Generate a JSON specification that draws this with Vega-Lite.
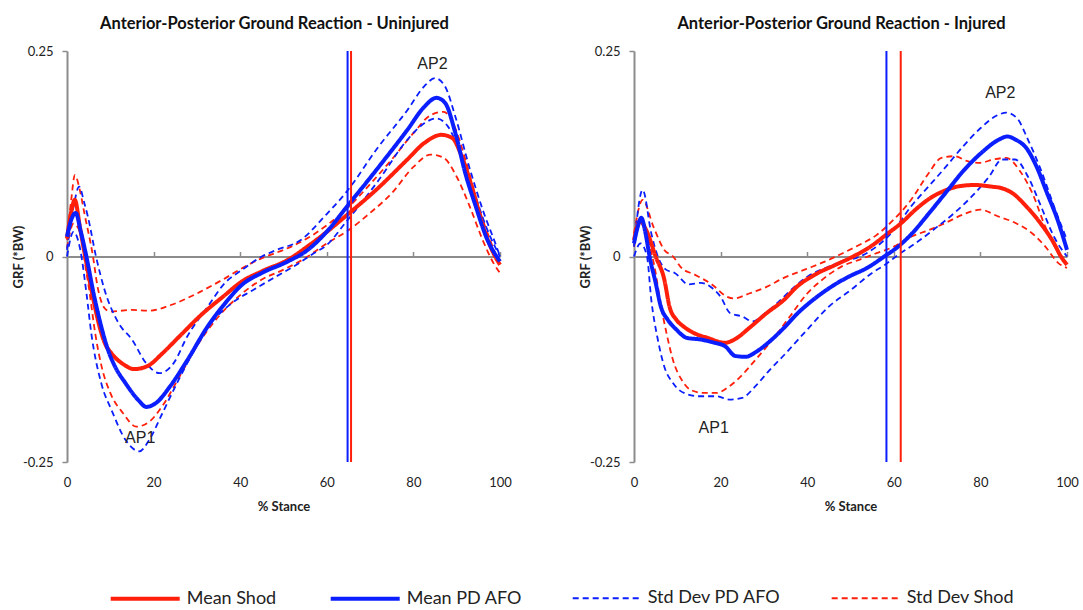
{
"$schema": "https://vega.github.io/schema/vega-lite/v6.json",
"padding": {"left": 12, "top": 15, "right": 0, "bottom": 0},
"background": "white",
"config": {
  "view": {"stroke": null},
  "font": "Lato",
  "axis": {"grid": false, "domainColor": "#8c8c8c", "tickColor": "#8c8c8c", "labelColor": "#222222", "labelFont": "Lato", "labelFontSize": 13, "titleFont": "Lato", "titleFontSize": 13, "titleFontWeight": "bold", "titleColor": "#222222"},
  "title": {"font": "Lato", "fontSize": 16.5, "fontWeight": "bold", "color": "#111111"},
  "concat": {"spacing": 67},
  "legend": {"orient": "none", "legendX": 41.7, "legendY": 511, "direction": "horizontal", "columnPadding": 46, "symbolType": "stroke", "symbolSize": 4761, "labelFont": "Lato", "labelFontSize": 18, "labelColor": "#222222", "labelOffset": 5, "padding": 0}
},
"datasets": {
"curves": [
{"p":"U","s":"Std Dev Shod","b":"u","x":0,"y":0.02},{"p":"U","s":"Std Dev Shod","b":"u","x":1,"y":0.07},{"p":"U","s":"Std Dev Shod","b":"u","x":1.8,"y":0.099},{"p":"U","s":"Std Dev Shod","b":"u","x":3,"y":0.08},{"p":"U","s":"Std Dev Shod","b":"u","x":4,"y":0.053},{"p":"U","s":"Std Dev Shod","b":"u","x":6,"y":0.0},{"p":"U","s":"Std Dev Shod","b":"u","x":7,"y":-0.035},{"p":"U","s":"Std Dev Shod","b":"u","x":8.7,"y":-0.063},{"p":"U","s":"Std Dev Shod","b":"u","x":10,"y":-0.067},{"p":"U","s":"Std Dev Shod","b":"u","x":15,"y":-0.065},{"p":"U","s":"Std Dev Shod","b":"u","x":19,"y":-0.066},{"p":"U","s":"Std Dev Shod","b":"u","x":24,"y":-0.059},{"p":"U","s":"Std Dev Shod","b":"u","x":30,"y":-0.045},{"p":"U","s":"Std Dev Shod","b":"u","x":36,"y":-0.028},{"p":"U","s":"Std Dev Shod","b":"u","x":40.5,"y":-0.014},{"p":"U","s":"Std Dev Shod","b":"u","x":45,"y":-0.002},{"p":"U","s":"Std Dev Shod","b":"u","x":50,"y":0.008},{"p":"U","s":"Std Dev Shod","b":"u","x":54.8,"y":0.02},{"p":"U","s":"Std Dev Shod","b":"u","x":60,"y":0.038},{"p":"U","s":"Std Dev Shod","b":"u","x":65,"y":0.06},{"p":"U","s":"Std Dev Shod","b":"u","x":70,"y":0.088},{"p":"U","s":"Std Dev Shod","b":"u","x":75,"y":0.118},{"p":"U","s":"Std Dev Shod","b":"u","x":80,"y":0.15},{"p":"U","s":"Std Dev Shod","b":"u","x":84,"y":0.172},{"p":"U","s":"Std Dev Shod","b":"u","x":87,"y":0.176},{"p":"U","s":"Std Dev Shod","b":"u","x":89.5,"y":0.158},{"p":"U","s":"Std Dev Shod","b":"u","x":92,"y":0.118},{"p":"U","s":"Std Dev Shod","b":"u","x":95,"y":0.061},{"p":"U","s":"Std Dev Shod","b":"u","x":98,"y":0.016},{"p":"U","s":"Std Dev Shod","b":"u","x":100,"y":-0.012},
{"p":"U","s":"Std Dev Shod","b":"l","x":0,"y":0.01},{"p":"U","s":"Std Dev Shod","b":"l","x":1.5,"y":0.04},{"p":"U","s":"Std Dev Shod","b":"l","x":3,"y":0.03},{"p":"U","s":"Std Dev Shod","b":"l","x":4.5,"y":-0.02},{"p":"U","s":"Std Dev Shod","b":"l","x":5,"y":-0.036},{"p":"U","s":"Std Dev Shod","b":"l","x":6.5,"y":-0.093},{"p":"U","s":"Std Dev Shod","b":"l","x":8,"y":-0.134},{"p":"U","s":"Std Dev Shod","b":"l","x":10,"y":-0.166},{"p":"U","s":"Std Dev Shod","b":"l","x":13,"y":-0.191},{"p":"U","s":"Std Dev Shod","b":"l","x":16,"y":-0.207},{"p":"U","s":"Std Dev Shod","b":"l","x":19,"y":-0.201},{"p":"U","s":"Std Dev Shod","b":"l","x":22,"y":-0.182},{"p":"U","s":"Std Dev Shod","b":"l","x":26,"y":-0.146},{"p":"U","s":"Std Dev Shod","b":"l","x":30,"y":-0.109},{"p":"U","s":"Std Dev Shod","b":"l","x":35,"y":-0.073},{"p":"U","s":"Std Dev Shod","b":"l","x":40,"y":-0.047},{"p":"U","s":"Std Dev Shod","b":"l","x":45,"y":-0.028},{"p":"U","s":"Std Dev Shod","b":"l","x":50,"y":-0.016},{"p":"U","s":"Std Dev Shod","b":"l","x":55,"y":-0.002},{"p":"U","s":"Std Dev Shod","b":"l","x":60,"y":0.016},{"p":"U","s":"Std Dev Shod","b":"l","x":65,"y":0.032},{"p":"U","s":"Std Dev Shod","b":"l","x":70,"y":0.053},{"p":"U","s":"Std Dev Shod","b":"l","x":75,"y":0.077},{"p":"U","s":"Std Dev Shod","b":"l","x":80,"y":0.109},{"p":"U","s":"Std Dev Shod","b":"l","x":84,"y":0.124},{"p":"U","s":"Std Dev Shod","b":"l","x":87,"y":0.12},{"p":"U","s":"Std Dev Shod","b":"l","x":90,"y":0.097},{"p":"U","s":"Std Dev Shod","b":"l","x":93,"y":0.061},{"p":"U","s":"Std Dev Shod","b":"l","x":96,"y":0.02},{"p":"U","s":"Std Dev Shod","b":"l","x":98.5,"y":-0.008},{"p":"U","s":"Std Dev Shod","b":"l","x":100,"y":-0.02},
{"p":"U","s":"Std Dev PD AFO","b":"u","x":0,"y":0.008},{"p":"U","s":"Std Dev PD AFO","b":"u","x":1.5,"y":0.06},{"p":"U","s":"Std Dev PD AFO","b":"u","x":2.8,"y":0.085},{"p":"U","s":"Std Dev PD AFO","b":"u","x":4,"y":0.065},{"p":"U","s":"Std Dev PD AFO","b":"u","x":4.8,"y":0.049},{"p":"U","s":"Std Dev PD AFO","b":"u","x":6.7,"y":0.0},{"p":"U","s":"Std Dev PD AFO","b":"u","x":8.7,"y":-0.041},{"p":"U","s":"Std Dev PD AFO","b":"u","x":11.9,"y":-0.081},{"p":"U","s":"Std Dev PD AFO","b":"u","x":15,"y":-0.101},{"p":"U","s":"Std Dev PD AFO","b":"u","x":18.3,"y":-0.13},{"p":"U","s":"Std Dev PD AFO","b":"u","x":21.4,"y":-0.142},{"p":"U","s":"Std Dev PD AFO","b":"u","x":24.6,"y":-0.13},{"p":"U","s":"Std Dev PD AFO","b":"u","x":27.8,"y":-0.097},{"p":"U","s":"Std Dev PD AFO","b":"u","x":32.5,"y":-0.061},{"p":"U","s":"Std Dev PD AFO","b":"u","x":36.5,"y":-0.032},{"p":"U","s":"Std Dev PD AFO","b":"u","x":40.5,"y":-0.016},{"p":"U","s":"Std Dev PD AFO","b":"u","x":45,"y":0.0},{"p":"U","s":"Std Dev PD AFO","b":"u","x":48.4,"y":0.008},{"p":"U","s":"Std Dev PD AFO","b":"u","x":54,"y":0.02},{"p":"U","s":"Std Dev PD AFO","b":"u","x":59.5,"y":0.049},{"p":"U","s":"Std Dev PD AFO","b":"u","x":64.3,"y":0.077},{"p":"U","s":"Std Dev PD AFO","b":"u","x":72,"y":0.134},{"p":"U","s":"Std Dev PD AFO","b":"u","x":78.6,"y":0.178},{"p":"U","s":"Std Dev PD AFO","b":"u","x":82.5,"y":0.207},{"p":"U","s":"Std Dev PD AFO","b":"u","x":85,"y":0.217},{"p":"U","s":"Std Dev PD AFO","b":"u","x":87.3,"y":0.207},{"p":"U","s":"Std Dev PD AFO","b":"u","x":89.7,"y":0.17},{"p":"U","s":"Std Dev PD AFO","b":"u","x":92.9,"y":0.109},{"p":"U","s":"Std Dev PD AFO","b":"u","x":96,"y":0.057},{"p":"U","s":"Std Dev PD AFO","b":"u","x":99.2,"y":0.012},{"p":"U","s":"Std Dev PD AFO","b":"u","x":100,"y":0.0},
{"p":"U","s":"Std Dev PD AFO","b":"l","x":0,"y":0.0},{"p":"U","s":"Std Dev PD AFO","b":"l","x":1.5,"y":0.03},{"p":"U","s":"Std Dev PD AFO","b":"l","x":3,"y":0.01},{"p":"U","s":"Std Dev PD AFO","b":"l","x":4.5,"y":-0.045},{"p":"U","s":"Std Dev PD AFO","b":"l","x":5.6,"y":-0.093},{"p":"U","s":"Std Dev PD AFO","b":"l","x":7.9,"y":-0.154},{"p":"U","s":"Std Dev PD AFO","b":"l","x":10.3,"y":-0.187},{"p":"U","s":"Std Dev PD AFO","b":"l","x":13.5,"y":-0.223},{"p":"U","s":"Std Dev PD AFO","b":"l","x":16.7,"y":-0.237},{"p":"U","s":"Std Dev PD AFO","b":"l","x":19,"y":-0.223},{"p":"U","s":"Std Dev PD AFO","b":"l","x":22,"y":-0.191},{"p":"U","s":"Std Dev PD AFO","b":"l","x":25.4,"y":-0.154},{"p":"U","s":"Std Dev PD AFO","b":"l","x":29.4,"y":-0.114},{"p":"U","s":"Std Dev PD AFO","b":"l","x":33.3,"y":-0.081},{"p":"U","s":"Std Dev PD AFO","b":"l","x":38,"y":-0.057},{"p":"U","s":"Std Dev PD AFO","b":"l","x":42.9,"y":-0.041},{"p":"U","s":"Std Dev PD AFO","b":"l","x":48.4,"y":-0.024},{"p":"U","s":"Std Dev PD AFO","b":"l","x":53,"y":-0.01},{"p":"U","s":"Std Dev PD AFO","b":"l","x":57,"y":0.004},{"p":"U","s":"Std Dev PD AFO","b":"l","x":60,"y":0.014},{"p":"U","s":"Std Dev PD AFO","b":"l","x":64.3,"y":0.041},{"p":"U","s":"Std Dev PD AFO","b":"l","x":72,"y":0.093},{"p":"U","s":"Std Dev PD AFO","b":"l","x":78.6,"y":0.142},{"p":"U","s":"Std Dev PD AFO","b":"l","x":82.5,"y":0.162},{"p":"U","s":"Std Dev PD AFO","b":"l","x":85.3,"y":0.168},{"p":"U","s":"Std Dev PD AFO","b":"l","x":88,"y":0.158},{"p":"U","s":"Std Dev PD AFO","b":"l","x":90.5,"y":0.13},{"p":"U","s":"Std Dev PD AFO","b":"l","x":93.6,"y":0.085},{"p":"U","s":"Std Dev PD AFO","b":"l","x":96.8,"y":0.036},{"p":"U","s":"Std Dev PD AFO","b":"l","x":100,"y":0.0},
{"p":"U","s":"Mean Shod","b":"m","x":0,"y":0.022},{"p":"U","s":"Mean Shod","b":"m","x":1,"y":0.055},{"p":"U","s":"Mean Shod","b":"m","x":1.8,"y":0.069},{"p":"U","s":"Mean Shod","b":"m","x":3,"y":0.035},{"p":"U","s":"Mean Shod","b":"m","x":4.2,"y":0.0},{"p":"U","s":"Mean Shod","b":"m","x":6,"y":-0.05},{"p":"U","s":"Mean Shod","b":"m","x":7.5,"y":-0.085},{"p":"U","s":"Mean Shod","b":"m","x":8.7,"y":-0.105},{"p":"U","s":"Mean Shod","b":"m","x":10.3,"y":-0.118},{"p":"U","s":"Mean Shod","b":"m","x":13,"y":-0.131},{"p":"U","s":"Mean Shod","b":"m","x":15.5,"y":-0.137},{"p":"U","s":"Mean Shod","b":"m","x":18.7,"y":-0.133},{"p":"U","s":"Mean Shod","b":"m","x":22,"y":-0.118},{"p":"U","s":"Mean Shod","b":"m","x":26,"y":-0.097},{"p":"U","s":"Mean Shod","b":"m","x":31,"y":-0.071},{"p":"U","s":"Mean Shod","b":"m","x":36,"y":-0.049},{"p":"U","s":"Mean Shod","b":"m","x":40.5,"y":-0.03},{"p":"U","s":"Mean Shod","b":"m","x":45,"y":-0.018},{"p":"U","s":"Mean Shod","b":"m","x":51,"y":-0.004},{"p":"U","s":"Mean Shod","b":"m","x":56,"y":0.014},{"p":"U","s":"Mean Shod","b":"m","x":60,"y":0.03},{"p":"U","s":"Mean Shod","b":"m","x":65,"y":0.052},{"p":"U","s":"Mean Shod","b":"m","x":72,"y":0.084},{"p":"U","s":"Mean Shod","b":"m","x":78.6,"y":0.118},{"p":"U","s":"Mean Shod","b":"m","x":82.5,"y":0.138},{"p":"U","s":"Mean Shod","b":"m","x":86.5,"y":0.148},{"p":"U","s":"Mean Shod","b":"m","x":89,"y":0.144},{"p":"U","s":"Mean Shod","b":"m","x":91,"y":0.124},{"p":"U","s":"Mean Shod","b":"m","x":93.6,"y":0.083},{"p":"U","s":"Mean Shod","b":"m","x":96,"y":0.038},{"p":"U","s":"Mean Shod","b":"m","x":98.4,"y":0.005},{"p":"U","s":"Mean Shod","b":"m","x":100,"y":-0.01},
{"p":"U","s":"Mean PD AFO","b":"m","x":0,"y":0.024},{"p":"U","s":"Mean PD AFO","b":"m","x":1,"y":0.045},{"p":"U","s":"Mean PD AFO","b":"m","x":2,"y":0.053},{"p":"U","s":"Mean PD AFO","b":"m","x":3.2,"y":0.03},{"p":"U","s":"Mean PD AFO","b":"m","x":4.4,"y":0.002},{"p":"U","s":"Mean PD AFO","b":"m","x":6.3,"y":-0.049},{"p":"U","s":"Mean PD AFO","b":"m","x":7.9,"y":-0.085},{"p":"U","s":"Mean PD AFO","b":"m","x":9.5,"y":-0.114},{"p":"U","s":"Mean PD AFO","b":"m","x":11.1,"y":-0.134},{"p":"U","s":"Mean PD AFO","b":"m","x":13.5,"y":-0.154},{"p":"U","s":"Mean PD AFO","b":"m","x":16.7,"y":-0.176},{"p":"U","s":"Mean PD AFO","b":"m","x":18.3,"y":-0.183},{"p":"U","s":"Mean PD AFO","b":"m","x":20.6,"y":-0.178},{"p":"U","s":"Mean PD AFO","b":"m","x":23.8,"y":-0.158},{"p":"U","s":"Mean PD AFO","b":"m","x":27.8,"y":-0.126},{"p":"U","s":"Mean PD AFO","b":"m","x":32.5,"y":-0.085},{"p":"U","s":"Mean PD AFO","b":"m","x":36.5,"y":-0.057},{"p":"U","s":"Mean PD AFO","b":"m","x":40.5,"y":-0.034},{"p":"U","s":"Mean PD AFO","b":"m","x":45,"y":-0.02},{"p":"U","s":"Mean PD AFO","b":"m","x":51,"y":-0.006},{"p":"U","s":"Mean PD AFO","b":"m","x":55.6,"y":0.008},{"p":"U","s":"Mean PD AFO","b":"m","x":60.3,"y":0.032},{"p":"U","s":"Mean PD AFO","b":"m","x":64.7,"y":0.061},{"p":"U","s":"Mean PD AFO","b":"m","x":72,"y":0.109},{"p":"U","s":"Mean PD AFO","b":"m","x":78.6,"y":0.154},{"p":"U","s":"Mean PD AFO","b":"m","x":82.5,"y":0.182},{"p":"U","s":"Mean PD AFO","b":"m","x":85.3,"y":0.193},{"p":"U","s":"Mean PD AFO","b":"m","x":87.3,"y":0.187},{"p":"U","s":"Mean PD AFO","b":"m","x":89.7,"y":0.15},{"p":"U","s":"Mean PD AFO","b":"m","x":92,"y":0.101},{"p":"U","s":"Mean PD AFO","b":"m","x":94.4,"y":0.061},{"p":"U","s":"Mean PD AFO","b":"m","x":96.8,"y":0.024},{"p":"U","s":"Mean PD AFO","b":"m","x":100,"y":-0.006},
{"p":"I","s":"Std Dev Shod","b":"u","x":0,"y":0.028},{"p":"I","s":"Std Dev Shod","b":"u","x":2,"y":0.069},{"p":"I","s":"Std Dev Shod","b":"u","x":4.5,"y":0.036},{"p":"I","s":"Std Dev Shod","b":"u","x":7,"y":0.008},{"p":"I","s":"Std Dev Shod","b":"u","x":9,"y":0.0},{"p":"I","s":"Std Dev Shod","b":"u","x":11,"y":-0.014},{"p":"I","s":"Std Dev Shod","b":"u","x":14,"y":-0.022},{"p":"I","s":"Std Dev Shod","b":"u","x":18,"y":-0.034},{"p":"I","s":"Std Dev Shod","b":"u","x":21.5,"y":-0.049},{"p":"I","s":"Std Dev Shod","b":"u","x":23,"y":-0.051},{"p":"I","s":"Std Dev Shod","b":"u","x":26.6,"y":-0.045},{"p":"I","s":"Std Dev Shod","b":"u","x":30.6,"y":-0.037},{"p":"I","s":"Std Dev Shod","b":"u","x":34.6,"y":-0.026},{"p":"I","s":"Std Dev Shod","b":"u","x":39.4,"y":-0.016},{"p":"I","s":"Std Dev Shod","b":"u","x":44.2,"y":-0.006},{"p":"I","s":"Std Dev Shod","b":"u","x":48.2,"y":0.004},{"p":"I","s":"Std Dev Shod","b":"u","x":52,"y":0.014},{"p":"I","s":"Std Dev Shod","b":"u","x":56,"y":0.026},{"p":"I","s":"Std Dev Shod","b":"u","x":60,"y":0.045},{"p":"I","s":"Std Dev Shod","b":"u","x":64,"y":0.069},{"p":"I","s":"Std Dev Shod","b":"u","x":68,"y":0.101},{"p":"I","s":"Std Dev Shod","b":"u","x":71,"y":0.12},{"p":"I","s":"Std Dev Shod","b":"u","x":74,"y":0.122},{"p":"I","s":"Std Dev Shod","b":"u","x":77,"y":0.116},{"p":"I","s":"Std Dev Shod","b":"u","x":80,"y":0.114},{"p":"I","s":"Std Dev Shod","b":"u","x":83,"y":0.118},{"p":"I","s":"Std Dev Shod","b":"u","x":86,"y":0.12},{"p":"I","s":"Std Dev Shod","b":"u","x":89,"y":0.105},{"p":"I","s":"Std Dev Shod","b":"u","x":92,"y":0.077},{"p":"I","s":"Std Dev Shod","b":"u","x":95,"y":0.036},{"p":"I","s":"Std Dev Shod","b":"u","x":98,"y":0.004},{"p":"I","s":"Std Dev Shod","b":"u","x":100,"y":-0.012},
{"p":"I","s":"Std Dev Shod","b":"l","x":0,"y":0.012},{"p":"I","s":"Std Dev Shod","b":"l","x":1.5,"y":0.045},{"p":"I","s":"Std Dev Shod","b":"l","x":3.5,"y":0.016},{"p":"I","s":"Std Dev Shod","b":"l","x":5,"y":-0.02},{"p":"I","s":"Std Dev Shod","b":"l","x":6,"y":-0.053},{"p":"I","s":"Std Dev Shod","b":"l","x":7.5,"y":-0.093},{"p":"I","s":"Std Dev Shod","b":"l","x":9,"y":-0.126},{"p":"I","s":"Std Dev Shod","b":"l","x":11,"y":-0.15},{"p":"I","s":"Std Dev Shod","b":"l","x":13,"y":-0.162},{"p":"I","s":"Std Dev Shod","b":"l","x":16,"y":-0.166},{"p":"I","s":"Std Dev Shod","b":"l","x":19,"y":-0.166},{"p":"I","s":"Std Dev Shod","b":"l","x":22,"y":-0.158},{"p":"I","s":"Std Dev Shod","b":"l","x":25,"y":-0.144},{"p":"I","s":"Std Dev Shod","b":"l","x":28,"y":-0.126},{"p":"I","s":"Std Dev Shod","b":"l","x":32,"y":-0.101},{"p":"I","s":"Std Dev Shod","b":"l","x":36,"y":-0.073},{"p":"I","s":"Std Dev Shod","b":"l","x":40,"y":-0.045},{"p":"I","s":"Std Dev Shod","b":"l","x":44,"y":-0.026},{"p":"I","s":"Std Dev Shod","b":"l","x":48,"y":-0.012},{"p":"I","s":"Std Dev Shod","b":"l","x":52,"y":-0.004},{"p":"I","s":"Std Dev Shod","b":"l","x":56,"y":0.004},{"p":"I","s":"Std Dev Shod","b":"l","x":60,"y":0.012},{"p":"I","s":"Std Dev Shod","b":"l","x":64,"y":0.024},{"p":"I","s":"Std Dev Shod","b":"l","x":68,"y":0.032},{"p":"I","s":"Std Dev Shod","b":"l","x":72,"y":0.041},{"p":"I","s":"Std Dev Shod","b":"l","x":76,"y":0.051},{"p":"I","s":"Std Dev Shod","b":"l","x":80,"y":0.057},{"p":"I","s":"Std Dev Shod","b":"l","x":84,"y":0.049},{"p":"I","s":"Std Dev Shod","b":"l","x":88,"y":0.041},{"p":"I","s":"Std Dev Shod","b":"l","x":92,"y":0.028},{"p":"I","s":"Std Dev Shod","b":"l","x":95,"y":0.012},{"p":"I","s":"Std Dev Shod","b":"l","x":98,"y":-0.008},{"p":"I","s":"Std Dev Shod","b":"l","x":100,"y":-0.014},
{"p":"I","s":"Std Dev PD AFO","b":"u","x":0,"y":0.012},{"p":"I","s":"Std Dev PD AFO","b":"u","x":2,"y":0.081},{"p":"I","s":"Std Dev PD AFO","b":"u","x":4,"y":0.028},{"p":"I","s":"Std Dev PD AFO","b":"u","x":5.5,"y":0.0},{"p":"I","s":"Std Dev PD AFO","b":"u","x":7.4,"y":-0.016},{"p":"I","s":"Std Dev PD AFO","b":"u","x":9.4,"y":-0.02},{"p":"I","s":"Std Dev PD AFO","b":"u","x":12.6,"y":-0.034},{"p":"I","s":"Std Dev PD AFO","b":"u","x":15.4,"y":-0.032},{"p":"I","s":"Std Dev PD AFO","b":"u","x":18.2,"y":-0.039},{"p":"I","s":"Std Dev PD AFO","b":"u","x":20,"y":-0.049},{"p":"I","s":"Std Dev PD AFO","b":"u","x":22.2,"y":-0.069},{"p":"I","s":"Std Dev PD AFO","b":"u","x":25,"y":-0.073},{"p":"I","s":"Std Dev PD AFO","b":"u","x":27.4,"y":-0.079},{"p":"I","s":"Std Dev PD AFO","b":"u","x":29.8,"y":-0.071},{"p":"I","s":"Std Dev PD AFO","b":"u","x":33,"y":-0.057},{"p":"I","s":"Std Dev PD AFO","b":"u","x":36.2,"y":-0.041},{"p":"I","s":"Std Dev PD AFO","b":"u","x":40.2,"y":-0.024},{"p":"I","s":"Std Dev PD AFO","b":"u","x":44.2,"y":-0.014},{"p":"I","s":"Std Dev PD AFO","b":"u","x":48.2,"y":-0.006},{"p":"I","s":"Std Dev PD AFO","b":"u","x":52.2,"y":0.0},{"p":"I","s":"Std Dev PD AFO","b":"u","x":56,"y":0.012},{"p":"I","s":"Std Dev PD AFO","b":"u","x":60,"y":0.032},{"p":"I","s":"Std Dev PD AFO","b":"u","x":64,"y":0.061},{"p":"I","s":"Std Dev PD AFO","b":"u","x":68,"y":0.085},{"p":"I","s":"Std Dev PD AFO","b":"u","x":72,"y":0.109},{"p":"I","s":"Std Dev PD AFO","b":"u","x":76,"y":0.134},{"p":"I","s":"Std Dev PD AFO","b":"u","x":80,"y":0.156},{"p":"I","s":"Std Dev PD AFO","b":"u","x":84,"y":0.172},{"p":"I","s":"Std Dev PD AFO","b":"u","x":86,"y":0.175},{"p":"I","s":"Std Dev PD AFO","b":"u","x":88.5,"y":0.168},{"p":"I","s":"Std Dev PD AFO","b":"u","x":91,"y":0.142},{"p":"I","s":"Std Dev PD AFO","b":"u","x":94,"y":0.105},{"p":"I","s":"Std Dev PD AFO","b":"u","x":97,"y":0.061},{"p":"I","s":"Std Dev PD AFO","b":"u","x":100,"y":0.02},
{"p":"I","s":"Std Dev PD AFO","b":"l","x":0,"y":0.0},{"p":"I","s":"Std Dev PD AFO","b":"l","x":1.5,"y":0.016},{"p":"I","s":"Std Dev PD AFO","b":"l","x":3,"y":0.0},{"p":"I","s":"Std Dev PD AFO","b":"l","x":4,"y":-0.053},{"p":"I","s":"Std Dev PD AFO","b":"l","x":5.5,"y":-0.101},{"p":"I","s":"Std Dev PD AFO","b":"l","x":7,"y":-0.134},{"p":"I","s":"Std Dev PD AFO","b":"l","x":9,"y":-0.154},{"p":"I","s":"Std Dev PD AFO","b":"l","x":12,"y":-0.167},{"p":"I","s":"Std Dev PD AFO","b":"l","x":15,"y":-0.17},{"p":"I","s":"Std Dev PD AFO","b":"l","x":19,"y":-0.17},{"p":"I","s":"Std Dev PD AFO","b":"l","x":22,"y":-0.174},{"p":"I","s":"Std Dev PD AFO","b":"l","x":25,"y":-0.172},{"p":"I","s":"Std Dev PD AFO","b":"l","x":28,"y":-0.158},{"p":"I","s":"Std Dev PD AFO","b":"l","x":31,"y":-0.14},{"p":"I","s":"Std Dev PD AFO","b":"l","x":35,"y":-0.118},{"p":"I","s":"Std Dev PD AFO","b":"l","x":40,"y":-0.089},{"p":"I","s":"Std Dev PD AFO","b":"l","x":45,"y":-0.061},{"p":"I","s":"Std Dev PD AFO","b":"l","x":50,"y":-0.041},{"p":"I","s":"Std Dev PD AFO","b":"l","x":55,"y":-0.02},{"p":"I","s":"Std Dev PD AFO","b":"l","x":58,"y":-0.01},{"p":"I","s":"Std Dev PD AFO","b":"l","x":61,"y":0.002},{"p":"I","s":"Std Dev PD AFO","b":"l","x":65,"y":0.016},{"p":"I","s":"Std Dev PD AFO","b":"l","x":70,"y":0.036},{"p":"I","s":"Std Dev PD AFO","b":"l","x":74,"y":0.053},{"p":"I","s":"Std Dev PD AFO","b":"l","x":78,"y":0.073},{"p":"I","s":"Std Dev PD AFO","b":"l","x":82,"y":0.097},{"p":"I","s":"Std Dev PD AFO","b":"l","x":85,"y":0.118},{"p":"I","s":"Std Dev PD AFO","b":"l","x":88,"y":0.118},{"p":"I","s":"Std Dev PD AFO","b":"l","x":91,"y":0.097},{"p":"I","s":"Std Dev PD AFO","b":"l","x":94,"y":0.061},{"p":"I","s":"Std Dev PD AFO","b":"l","x":97,"y":0.024},{"p":"I","s":"Std Dev PD AFO","b":"l","x":100,"y":0.0},
{"p":"I","s":"Mean Shod","b":"m","x":0,"y":0.02},{"p":"I","s":"Mean Shod","b":"m","x":1.4,"y":0.043},{"p":"I","s":"Mean Shod","b":"m","x":3,"y":0.03},{"p":"I","s":"Mean Shod","b":"m","x":5,"y":0.0},{"p":"I","s":"Mean Shod","b":"m","x":7,"y":-0.028},{"p":"I","s":"Mean Shod","b":"m","x":8.2,"y":-0.061},{"p":"I","s":"Mean Shod","b":"m","x":9.8,"y":-0.077},{"p":"I","s":"Mean Shod","b":"m","x":11.4,"y":-0.085},{"p":"I","s":"Mean Shod","b":"m","x":13.8,"y":-0.093},{"p":"I","s":"Mean Shod","b":"m","x":17,"y":-0.099},{"p":"I","s":"Mean Shod","b":"m","x":21,"y":-0.105},{"p":"I","s":"Mean Shod","b":"m","x":23.5,"y":-0.1},{"p":"I","s":"Mean Shod","b":"m","x":26.6,"y":-0.087},{"p":"I","s":"Mean Shod","b":"m","x":30.6,"y":-0.069},{"p":"I","s":"Mean Shod","b":"m","x":34.6,"y":-0.053},{"p":"I","s":"Mean Shod","b":"m","x":37.8,"y":-0.036},{"p":"I","s":"Mean Shod","b":"m","x":41.8,"y":-0.022},{"p":"I","s":"Mean Shod","b":"m","x":46.6,"y":-0.01},{"p":"I","s":"Mean Shod","b":"m","x":50.6,"y":0.0},{"p":"I","s":"Mean Shod","b":"m","x":54.6,"y":0.012},{"p":"I","s":"Mean Shod","b":"m","x":58.6,"y":0.028},{"p":"I","s":"Mean Shod","b":"m","x":61.8,"y":0.041},{"p":"I","s":"Mean Shod","b":"m","x":65,"y":0.057},{"p":"I","s":"Mean Shod","b":"m","x":69,"y":0.073},{"p":"I","s":"Mean Shod","b":"m","x":72.2,"y":0.081},{"p":"I","s":"Mean Shod","b":"m","x":74.6,"y":0.085},{"p":"I","s":"Mean Shod","b":"m","x":78.6,"y":0.087},{"p":"I","s":"Mean Shod","b":"m","x":82.6,"y":0.085},{"p":"I","s":"Mean Shod","b":"m","x":85,"y":0.083},{"p":"I","s":"Mean Shod","b":"m","x":87.4,"y":0.077},{"p":"I","s":"Mean Shod","b":"m","x":90.6,"y":0.061},{"p":"I","s":"Mean Shod","b":"m","x":93.8,"y":0.041},{"p":"I","s":"Mean Shod","b":"m","x":97,"y":0.016},{"p":"I","s":"Mean Shod","b":"m","x":98.6,"y":0.0},{"p":"I","s":"Mean Shod","b":"m","x":100,"y":-0.01},
{"p":"I","s":"Mean PD AFO","b":"m","x":0,"y":0.016},{"p":"I","s":"Mean PD AFO","b":"m","x":0.8,"y":0.035},{"p":"I","s":"Mean PD AFO","b":"m","x":1.7,"y":0.047},{"p":"I","s":"Mean PD AFO","b":"m","x":2.6,"y":0.03},{"p":"I","s":"Mean PD AFO","b":"m","x":3.6,"y":0.0},{"p":"I","s":"Mean PD AFO","b":"m","x":5,"y":-0.032},{"p":"I","s":"Mean PD AFO","b":"m","x":6.2,"y":-0.061},{"p":"I","s":"Mean PD AFO","b":"m","x":7.8,"y":-0.077},{"p":"I","s":"Mean PD AFO","b":"m","x":9.8,"y":-0.089},{"p":"I","s":"Mean PD AFO","b":"m","x":12.2,"y":-0.099},{"p":"I","s":"Mean PD AFO","b":"m","x":15.4,"y":-0.101},{"p":"I","s":"Mean PD AFO","b":"m","x":18.6,"y":-0.105},{"p":"I","s":"Mean PD AFO","b":"m","x":21,"y":-0.109},{"p":"I","s":"Mean PD AFO","b":"m","x":23.4,"y":-0.121},{"p":"I","s":"Mean PD AFO","b":"m","x":25.8,"y":-0.122},{"p":"I","s":"Mean PD AFO","b":"m","x":28.2,"y":-0.116},{"p":"I","s":"Mean PD AFO","b":"m","x":31.4,"y":-0.103},{"p":"I","s":"Mean PD AFO","b":"m","x":34.6,"y":-0.087},{"p":"I","s":"Mean PD AFO","b":"m","x":37.8,"y":-0.069},{"p":"I","s":"Mean PD AFO","b":"m","x":41.8,"y":-0.051},{"p":"I","s":"Mean PD AFO","b":"m","x":45.8,"y":-0.036},{"p":"I","s":"Mean PD AFO","b":"m","x":49.8,"y":-0.024},{"p":"I","s":"Mean PD AFO","b":"m","x":53.8,"y":-0.014},{"p":"I","s":"Mean PD AFO","b":"m","x":57.8,"y":0.0},{"p":"I","s":"Mean PD AFO","b":"m","x":61,"y":0.012},{"p":"I","s":"Mean PD AFO","b":"m","x":64.2,"y":0.028},{"p":"I","s":"Mean PD AFO","b":"m","x":68.2,"y":0.053},{"p":"I","s":"Mean PD AFO","b":"m","x":72.2,"y":0.079},{"p":"I","s":"Mean PD AFO","b":"m","x":76.2,"y":0.105},{"p":"I","s":"Mean PD AFO","b":"m","x":80.2,"y":0.126},{"p":"I","s":"Mean PD AFO","b":"m","x":84.2,"y":0.142},{"p":"I","s":"Mean PD AFO","b":"m","x":86.2,"y":0.146},{"p":"I","s":"Mean PD AFO","b":"m","x":88.2,"y":0.142},{"p":"I","s":"Mean PD AFO","b":"m","x":90.6,"y":0.132},{"p":"I","s":"Mean PD AFO","b":"m","x":93,"y":0.109},{"p":"I","s":"Mean PD AFO","b":"m","x":95.4,"y":0.077},{"p":"I","s":"Mean PD AFO","b":"m","x":97.8,"y":0.045},{"p":"I","s":"Mean PD AFO","b":"m","x":100,"y":0.008}
],
"vlines": [
{"p":"U","s":"Mean PD AFO","x":64.8},{"p":"U","s":"Mean Shod","x":65.6},
{"p":"I","s":"Mean PD AFO","x":58.3},{"p":"I","s":"Mean Shod","x":61.6}
],
"notes": [
{"p":"U","t":"AP2","x":84.4,"y":0.234},{"p":"U","t":"AP1","x":16.9,"y":-0.221},
{"p":"I","t":"AP2","x":84.6,"y":0.199},{"p":"I","t":"AP1","x":18.4,"y":-0.209}
]
},
"hconcat": [
{
  "title": {"text": "Anterior-Posterior Ground Reaction - Uninjured", "dx": -9, "offset": 13},
  "width": 433, "height": 411,
  "resolve": {"axis": {"x": "independent"}},
  "layer": [
    {
      "data": {"name": "curves"},
      "transform": [{"filter": "datum.p === 'U'"}],
      "mark": {"type": "line", "interpolate": "monotone"},
      "encoding": {
        "x": {"field": "x", "type": "quantitative", "scale": {"domain": [0, 100], "nice": false, "zero": false}, "axis": {"orient": "bottom", "offset": -205.5, "values": [0, 20, 40, 60, 80, 100], "labels": false, "title": null, "domainWidth": 2, "tickSize": -5, "tickWidth": 1.5}},
        "y": {"field": "y", "type": "quantitative", "scale": {"domain": [-0.25, 0.25], "nice": false}, "axis": {"values": [-0.25, 0, 0.25], "title": "GRF (*BW)", "titlePadding": -3, "labelPadding": 9, "tickSize": 5, "tickWidth": 1.5, "domainWidth": 2, "labelExpr": "datum.value < 0 ? '-' + format(-datum.value, '~g') : format(datum.value, '~g')"}},
        "color": {"field": "s", "type": "nominal", "scale": {"domain": ["Mean Shod", "Mean PD AFO", "Std Dev PD AFO", "Std Dev Shod"], "range": ["#ff1f0a", "#0a1eff", "#0a1eff", "#ff1f0a"]}, "legend": {"title": null}},
        "strokeDash": {"field": "s", "type": "nominal", "scale": {"domain": ["Mean Shod", "Mean PD AFO", "Std Dev PD AFO", "Std Dev Shod"], "range": [[1, 0], [1, 0], [6, 4], [6, 4]]}, "legend": {"title": null}},
        "strokeWidth": {"field": "s", "type": "nominal", "scale": {"type": "ordinal", "domain": ["Mean Shod", "Mean PD AFO", "Std Dev PD AFO", "Std Dev Shod"], "range": [4, 4, 1.8, 1.8]}, "legend": {"title": null}},
        "detail": {"field": "b"}
      }
    },
    {
      "data": {"name": "vlines"},
      "transform": [{"filter": "datum.p === 'U'"}],
      "mark": {"type": "rule", "strokeWidth": 2},
      "encoding": {
        "x": {"field": "x", "type": "quantitative", "axis": {"orient": "bottom", "values": [0, 20, 40, 60, 80, 100], "domain": false, "ticks": false, "tickSize": 0, "labelPadding": 14, "labelFlush": false, "title": "% Stance", "titlePadding": 11}},
        "color": {"field": "s", "type": "nominal", "legend": {"title": null}}
      }
    },
    {
      "data": {"name": "notes"},
      "transform": [{"filter": "datum.p === 'U'"}],
      "mark": {"type": "text", "font": "Liberation Sans", "fontSize": 16, "color": "#222222", "align": "center", "baseline": "middle"},
      "encoding": {
        "x": {"field": "x", "type": "quantitative", "axis": null},
        "y": {"field": "y", "type": "quantitative"},
        "text": {"field": "t"}
      }
    }
  ]
},
{
  "title": {"text": "Anterior-Posterior Ground Reaction - Injured", "dx": -9, "offset": 13},
  "width": 433, "height": 411,
  "resolve": {"axis": {"x": "independent"}},
  "layer": [
    {
      "data": {"name": "curves"},
      "transform": [{"filter": "datum.p === 'I'"}],
      "mark": {"type": "line", "interpolate": "monotone"},
      "encoding": {
        "x": {"field": "x", "type": "quantitative", "scale": {"domain": [0, 100], "nice": false, "zero": false}, "axis": {"orient": "bottom", "offset": -205.5, "values": [0, 20, 40, 60, 80, 100], "labels": false, "title": null, "domainWidth": 2, "tickSize": -5, "tickWidth": 1.5}},
        "y": {"field": "y", "type": "quantitative", "scale": {"domain": [-0.25, 0.25], "nice": false}, "axis": {"values": [-0.25, 0, 0.25], "title": "GRF (*BW)", "titlePadding": -3, "labelPadding": 9, "tickSize": 5, "tickWidth": 1.5, "domainWidth": 2, "labelExpr": "datum.value < 0 ? '-' + format(-datum.value, '~g') : format(datum.value, '~g')"}},
        "color": {"field": "s", "type": "nominal", "scale": {"domain": ["Mean Shod", "Mean PD AFO", "Std Dev PD AFO", "Std Dev Shod"], "range": ["#ff1f0a", "#0a1eff", "#0a1eff", "#ff1f0a"]}, "legend": {"title": null}},
        "strokeDash": {"field": "s", "type": "nominal", "scale": {"domain": ["Mean Shod", "Mean PD AFO", "Std Dev PD AFO", "Std Dev Shod"], "range": [[1, 0], [1, 0], [6, 4], [6, 4]]}, "legend": {"title": null}},
        "strokeWidth": {"field": "s", "type": "nominal", "scale": {"type": "ordinal", "domain": ["Mean Shod", "Mean PD AFO", "Std Dev PD AFO", "Std Dev Shod"], "range": [4, 4, 1.8, 1.8]}, "legend": {"title": null}},
        "detail": {"field": "b"}
      }
    },
    {
      "data": {"name": "vlines"},
      "transform": [{"filter": "datum.p === 'I'"}],
      "mark": {"type": "rule", "strokeWidth": 2},
      "encoding": {
        "x": {"field": "x", "type": "quantitative", "axis": {"orient": "bottom", "values": [0, 20, 40, 60, 80, 100], "domain": false, "ticks": false, "tickSize": 0, "labelPadding": 14, "labelFlush": false, "title": "% Stance", "titlePadding": 11}},
        "color": {"field": "s", "type": "nominal", "legend": {"title": null}}
      }
    },
    {
      "data": {"name": "notes"},
      "transform": [{"filter": "datum.p === 'I'"}],
      "mark": {"type": "text", "font": "Liberation Sans", "fontSize": 16, "color": "#222222", "align": "center", "baseline": "middle"},
      "encoding": {
        "x": {"field": "x", "type": "quantitative", "axis": null},
        "y": {"field": "y", "type": "quantitative"},
        "text": {"field": "t"}
      }
    }
  ]
}
]
}
